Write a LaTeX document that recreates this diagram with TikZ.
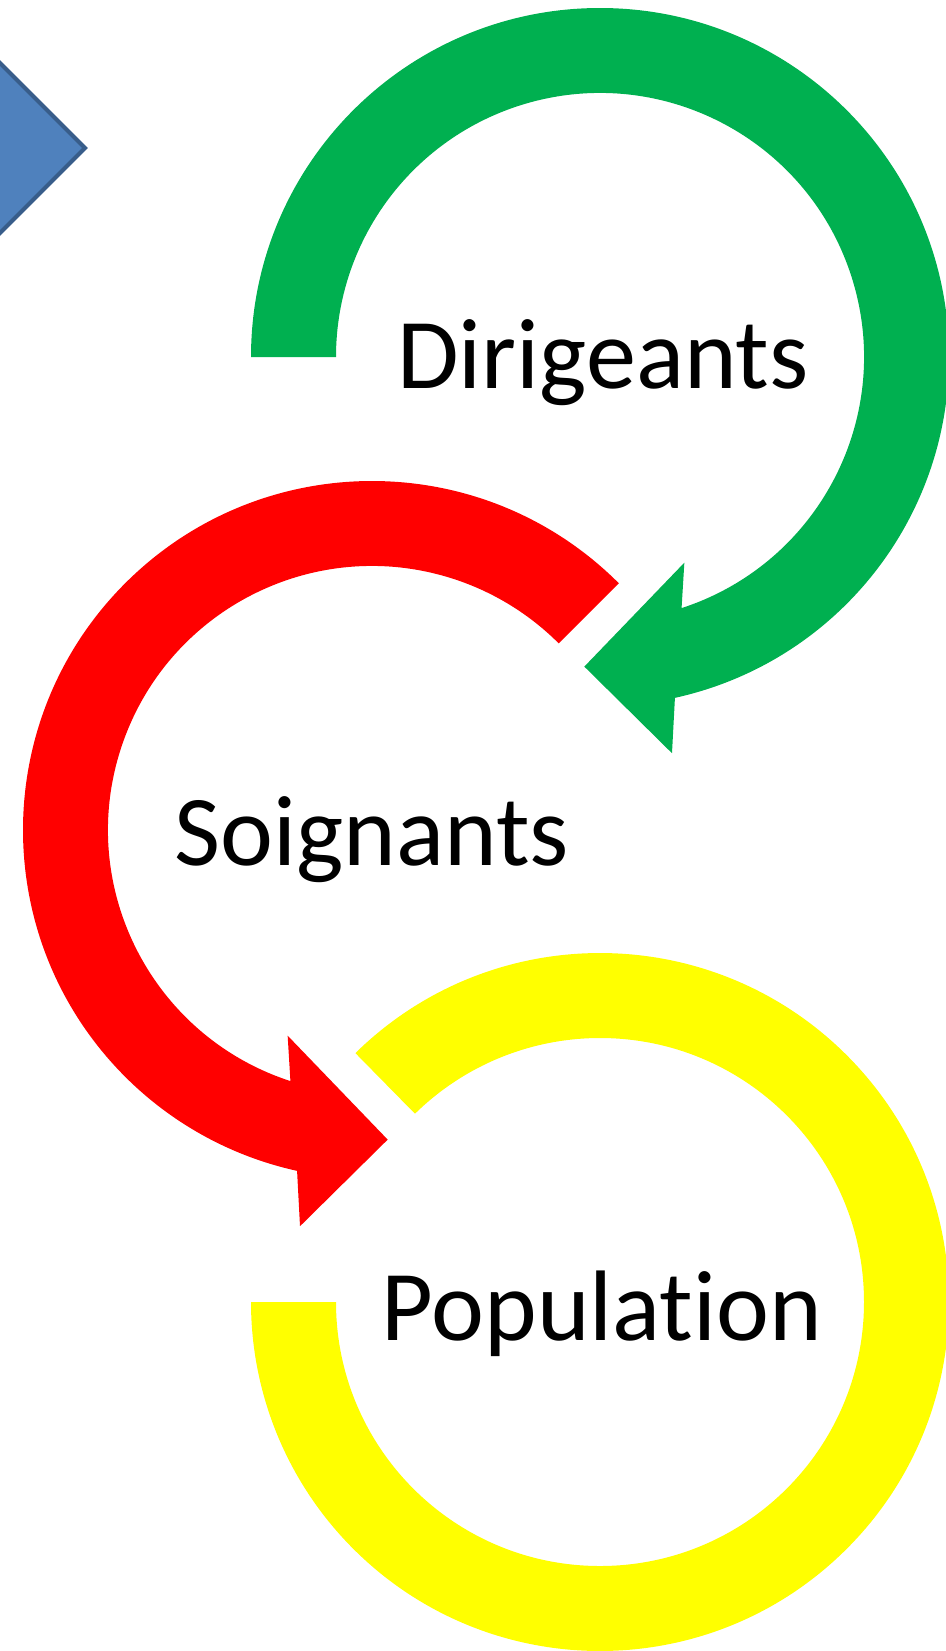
\documentclass[tikz,border=0pt]{standalone}
\usepackage{fontspec}
\setmainfont{Carlito}[Ligatures=NoCommon]
\usetikzlibrary{calc,positioning}
\definecolor{ringgreen}{HTML}{00B050}
\definecolor{ringred}{HTML}{FF0000}
\definecolor{ringyellow}{HTML}{FFFF00}
\definecolor{markerfill}{HTML}{4F81BD}
\definecolor{markerline}{HTML}{385D8A}
\tikzset{x=0.01cm, y=0.01cm, % one unit is one pixel of the layout
        word/.style={ % Sets the properties for the three labels
            font=\fontsize{28.5}{34}\selectfont,
            anchor=base,
            inner sep=0pt},
        marker/.style={ % The blue shape on the left border
            fill=markerfill,
            draw=markerline,
            line width=1.2pt,
            line join=miter}
        }
\begin{document}
\begin{tikzpicture}
    \clip (0,0) rectangle (946,-1651);
    % centres of the rings
    \coordinate (gc) at (600,-357);
    \coordinate (rc) at (372,-830);
    \coordinate (yc) at (600,-1302);

    \draw[marker] (85,-148) -- (0,-63) -- (-85,-148) -- (0,-233) -- cycle;

    % green ring, arrow towards the red one
    \fill[ringgreen]
        ($(gc)+(180:349)$) arc[start angle=180, end angle=-77.6, radius=349]
        -- ($(gc)+(-79.7:402.7)$) -- ($(gc)+(-92.9:310)$) -- ($(gc)+(-67.7:222.3)$)
        -- ($(gc)+(-72:264)$) arc[start angle=-72, end angle=180, radius=264] -- cycle;

    % red ring, arrow towards the yellow one
    \fill[ringred]
        ($(rc)+(45:349)$) arc[start angle=45, end angle=257.6, radius=349]
        -- ($(rc)+(259.7:402.7)$) -- ($(rc)+(272.9:310)$) -- ($(rc)+(247.7:222.3)$)
        -- ($(rc)+(252:264)$) arc[start angle=252, end angle=45, radius=264] -- cycle;

    % yellow ring
    \fill[ringyellow]
        ($(yc)+(134.5:349)$) arc[start angle=134.5, end angle=-180, radius=349]
        -- ($(yc)+(180:264)$) arc[start angle=-180, end angle=134.5, radius=264] -- cycle;

    \node[word] (dirigeants) at (603,-388) {Dirigeants};
    \node[word] (soignants)  at (372,-865) {Soignants};
    \node[word] (population) at (602,-1340) {Population};
\end{tikzpicture}
\end{document}
